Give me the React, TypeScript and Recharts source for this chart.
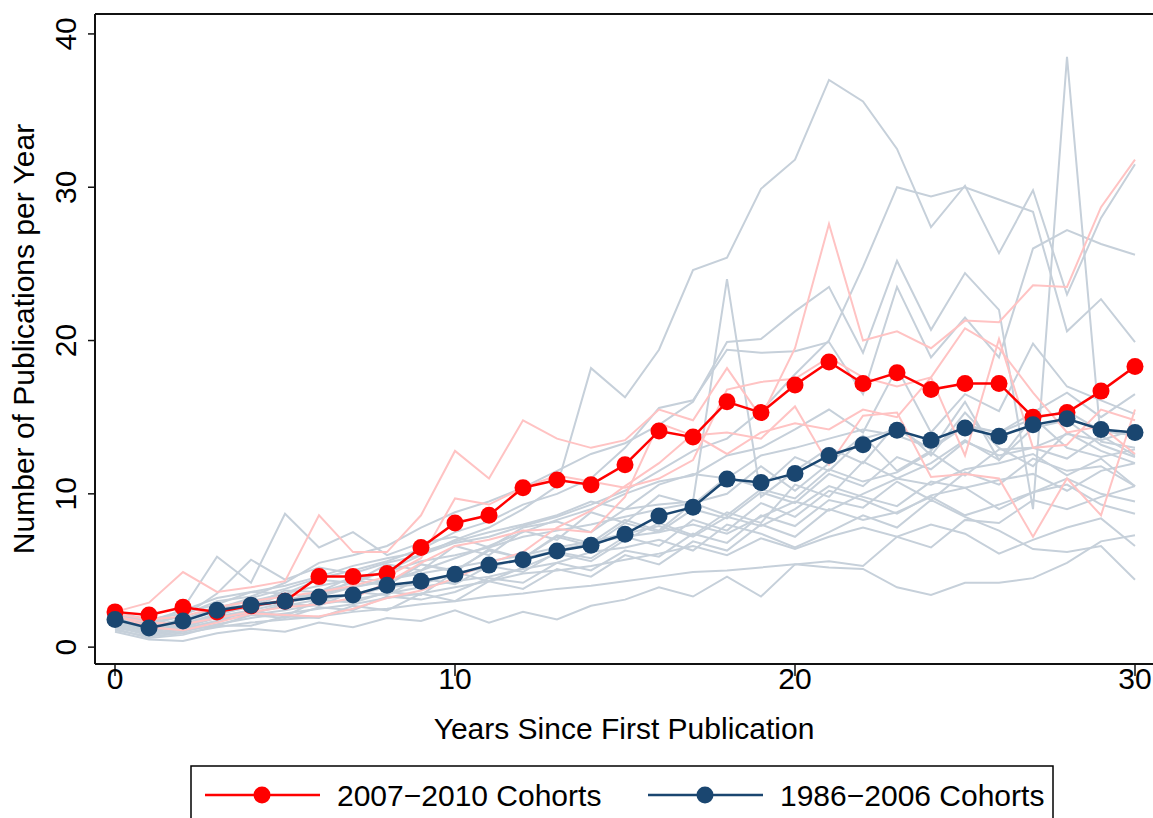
import React from 'react';
import { LineChart, Line, XAxis, YAxis, Legend, ReferenceLine } from 'recharts';

const years = [
  0, 1, 2, 3, 4, 5, 6, 7, 8, 9, 10, 11, 12, 13, 14, 15, 16, 17, 18, 19, 20,
  21, 22, 23, 24, 25, 26, 27, 28, 29, 30,
];

// cohort means
const recentMean = [
  2.3, 2.1, 2.6, 2.3, 2.7, 3.0, 4.6, 4.6, 4.8, 6.5, 8.1, 8.6, 10.4, 10.9, 10.6,
  11.9, 14.1, 13.7, 16.0, 15.3, 17.1, 18.6, 17.2, 17.9, 16.8, 17.2, 17.2, 15.0,
  15.3, 16.7, 18.3,
];
const earlierMean = [
  1.8, 1.25, 1.7, 2.4, 2.74, 3.0, 3.27, 3.4, 4.04, 4.3, 4.75, 5.35, 5.7, 6.27,
  6.65, 7.37, 8.56, 9.13, 10.96, 10.74, 11.33, 12.5, 13.2, 14.15, 13.5, 14.3,
  13.75, 14.5, 14.9, 14.2, 14.0,
];

// individual cohorts 2007-2010 (pink)
const recentCohorts = [
  [2.3, 2.9, 4.9, 3.6, 3.9, 4.3, 8.6, 6.2, 6.2, 8.6, 12.8, 11.0, 14.8, 13.6, 13.0, 13.5, 15.5, 14.8, 18.2, 15.0, 19.5, 27.6, 20.0, 20.6, 19.5, 21.3, 21.2, 23.6, 23.5, 28.7, 31.8],
  [2.2, 1.8, 2.0, 2.6, 3.0, 3.3, 3.6, 4.0, 4.6, 5.8, 9.7, 9.3, 10.4, 11.2, 10.8, 10.4, 11.0, 12.2, 16.8, 17.3, 17.5, 18.9, 17.6, 17.0, 17.6, 12.5, 20.1, 13.0, 13.2, 15.5, 14.8],
  [2.0, 1.6, 1.5, 1.9, 2.3, 2.6, 2.8, 3.2, 4.2, 5.5, 6.6, 7.0, 7.6, 7.7, 7.5, 9.8, 14.6, 13.8, 14.0, 13.6, 15.7, 11.9, 15.1, 15.3, 11.1, 11.3, 11.0, 7.2, 11.0, 8.6, 15.5],
  [2.1, 1.3, 1.1, 1.6, 2.2, 2.1, 2.0, 2.5, 3.2, 3.7, 4.5, 5.5, 6.2, 7.8, 8.9, 10.5, 12.0, 13.9, 12.6, 14.0, 14.6, 14.2, 15.5, 15.0, 17.6, 20.8, 19.5, 16.6, 14.0, 14.4, 12.6],
];

// individual cohorts 1986-2006 (grey)
const earlierCohorts = [
  [1.5, 1.1, 1.5, 2.2, 2.6, 3.0, 3.6, 4.2, 5.0, 6.0, 7.0, 7.8, 9.0, 10.5, 18.2, 16.3, 19.4, 24.6, 25.4, 29.9, 31.8, 37.0, 35.6, 32.5, 27.4, 30.1, 25.7, 29.8, 23.0, 28.0, 31.5],
  [1.9, 1.4, 2.1, 3.0, 3.3, 4.2, 5.5, 6.0, 6.6, 7.8, 8.8, 9.5, 10.4, 11.5, 12.6, 13.3, 14.5, 16.0, 19.9, 20.1, 21.9, 23.5, 19.2, 25.2, 20.7, 24.4, 22.0, 9.0, 38.5, 13.4, 13.0],
  [2.0, 1.5, 2.5, 5.9, 4.2, 8.7, 6.5, 7.5, 6.0, 6.8, 7.2, 6.5, 7.8, 8.2, 7.5, 9.0, 9.3, 9.5, 24.0, 9.8, 11.5, 13.0, 12.0, 14.6, 12.5, 15.3, 13.0, 11.8, 14.0, 12.8, 12.0],
  [1.7, 1.0, 1.8, 2.5, 3.2, 3.8, 4.5, 5.0, 5.6, 6.4, 7.5, 8.2, 9.3, 10.0, 11.0, 13.0, 15.6, 16.1, 19.4, 19.2, 19.3, 19.9, 16.5, 23.5, 18.9, 21.5, 18.9, 26.0, 27.2, 26.3, 25.6],
  [2.2, 1.6, 2.0, 3.5, 5.7, 4.4, 5.2, 4.8, 5.5, 6.0, 6.8, 7.2, 7.9, 8.5, 9.3, 10.2, 11.5, 12.8, 13.6, 15.4, 17.8, 20.0, 24.8, 30.0, 29.4, 30.0, 29.2, 28.4, 20.6, 22.7, 19.9],
  [1.6, 1.2, 1.4, 2.0, 2.4, 2.9, 3.3, 3.9, 4.3, 5.0, 5.8, 6.6, 7.5, 8.3, 9.0, 10.0, 10.8, 11.2, 12.5, 13.0, 14.2, 15.5, 14.0, 18.2, 14.0, 16.5, 15.4, 19.8, 17.0, 16.1, 15.2],
  [1.4, 0.8, 1.2, 1.7, 2.4, 2.0, 3.1, 2.9, 3.6, 3.4, 4.9, 4.3, 5.2, 6.1, 5.6, 7.0, 8.1, 7.3, 8.8, 8.1, 10.6, 9.8, 12.1, 11.0, 12.0, 13.5, 12.2, 14.3, 14.8, 13.2, 12.4],
  [1.8, 1.3, 1.6, 2.6, 3.0, 3.5, 4.0, 4.4, 4.9, 5.6, 6.0, 6.5, 7.2, 7.6, 8.0, 8.5, 9.0, 9.4, 10.0, 11.8, 10.2, 12.0, 13.8, 11.5, 12.8, 16.0, 12.2, 15.0, 13.0, 12.4, 12.9],
  [1.3, 0.9, 1.1, 1.4, 2.1, 1.9, 2.6, 2.4, 3.3, 3.1, 3.6, 4.5, 4.2, 5.5, 5.0, 6.3, 5.9, 7.4, 6.8, 8.6, 7.9, 9.6, 9.1, 10.8, 9.6, 11.4, 10.6, 12.3, 11.5, 11.8, 10.5],
  [2.1, 1.7, 2.4, 3.2, 3.6, 4.0, 4.6, 5.3, 5.8, 6.2, 6.9, 7.5, 8.0, 8.6, 9.5, 9.0, 10.6, 11.3, 11.0, 12.5, 13.0, 13.6, 14.2, 13.8, 13.0, 14.5, 14.0, 14.9, 15.4, 14.1, 13.8],
  [1.5, 1.0, 1.3, 2.0, 2.2, 2.8, 2.7, 3.6, 3.4, 4.5, 4.1, 5.3, 4.9, 6.2, 5.8, 7.2, 6.6, 8.3, 7.6, 9.4, 8.5, 10.2, 9.6, 8.7, 9.9, 10.4, 9.0, 10.1, 11.0, 10.0, 9.5],
  [1.2, 0.6, 0.8, 1.4, 1.4, 2.0, 1.9, 2.7, 2.4, 3.5, 3.0, 4.3, 3.8, 5.1, 4.6, 6.0, 5.4, 6.9, 6.3, 8.0, 7.2, 9.0, 8.3, 8.8, 9.8, 8.6, 9.3, 10.1, 10.6, 9.3, 8.7],
  [1.7, 1.1, 1.5, 2.1, 2.7, 3.1, 3.5, 3.9, 4.4, 4.8, 5.2, 5.6, 6.0, 6.5, 6.9, 7.4, 7.9, 7.2, 8.5, 7.9, 9.0, 10.5, 9.8, 9.2, 10.8, 10.4, 10.9, 11.3, 10.2, 11.5, 12.0],
  [1.0, 0.5, 0.4, 0.9, 1.2, 1.0, 1.6, 1.3, 1.9, 1.7, 2.4, 1.6, 2.3, 1.8, 2.7, 3.1, 3.9, 3.3, 4.6, 3.3, 5.4, 5.6, 5.3, 7.2, 6.5, 8.3, 8.1, 9.6, 9.0, 9.8, 10.5],
  [1.4, 0.9, 1.2, 1.7, 2.1, 2.4, 2.8, 3.1, 3.5, 3.9, 4.3, 4.6, 5.1, 5.5, 6.2, 6.5, 7.0, 6.3, 8.0, 7.4, 6.5, 7.5, 8.6, 7.8, 9.6, 8.5, 7.6, 6.4, 6.2, 6.6, 4.4],
  [1.1, 0.7, 0.9, 1.3, 1.6, 1.8, 2.0, 2.3, 2.5, 2.8, 3.0, 3.3, 3.5, 3.8, 4.0, 4.3, 4.6, 4.9, 5.0, 5.2, 5.4, 5.2, 5.1, 3.9, 3.4, 4.2, 4.2, 4.5, 5.5, 6.9, 7.3],
  [1.9, 1.4, 1.8, 2.6, 2.7, 3.7, 3.6, 4.6, 4.2, 5.4, 5.0, 6.3, 5.8, 7.2, 6.6, 8.1, 7.5, 9.0, 8.4, 10.1, 9.4, 11.3, 10.5, 12.4, 11.6, 13.4, 12.5, 13.0, 13.9, 13.5, 14.2],
  [1.6, 1.1, 1.3, 1.9, 2.2, 2.7, 3.1, 3.4, 3.9, 4.1, 4.8, 5.2, 5.8, 6.3, 6.8, 7.2, 7.5, 8.0, 7.4, 8.5, 9.5, 8.9, 10.0, 11.0, 10.6, 11.6, 12.0, 12.6, 11.2, 12.3, 10.5],
  [1.3, 0.8, 1.0, 1.5, 1.9, 2.2, 2.5, 2.8, 3.2, 3.5, 3.9, 4.3, 4.8, 5.0, 5.3, 5.7, 6.1, 6.6, 6.0, 7.1, 6.4, 7.2, 7.8, 7.2, 8.0, 7.4, 6.1, 7.0, 7.8, 8.4, 6.6],
  [2.3, 1.8, 2.2, 2.8, 3.6, 3.5, 4.4, 4.2, 5.4, 5.0, 6.6, 6.0, 7.6, 7.0, 8.8, 8.1, 9.9, 9.3, 11.1, 10.4, 12.4, 11.5, 13.6, 14.2, 12.9, 14.4, 14.0, 15.3, 16.6, 15.0, 16.5],
  [1.5, 1.2, 1.6, 2.4, 2.6, 3.5, 3.2, 4.4, 4.0, 5.4, 4.9, 6.4, 5.8, 7.3, 6.8, 8.3, 7.6, 9.4, 8.6, 10.3, 9.7, 11.6, 10.8, 11.4, 12.7, 11.2, 12.9, 13.0, 12.3, 13.8, 12.5],
];

const xTicks = [0, 10, 20, 30];
const yTicks = [0, 10, 20, 30, 40];

const FONT = '"Liberation Sans", Arial, sans-serif';
const GREY = '#c6d0da';
const PINK = '#ffc3c3';
const RED = '#ff0000';
const NAVY = '#1a4670';

const data = years.map((yr, i) => {
  const row: Record<string, number> = { year: yr, recent: recentMean[i], earlier: earlierMean[i] };
  earlierCohorts.forEach((s, k) => (row['g' + k] = s[i]));
  recentCohorts.forEach((s, k) => (row['p' + k] = s[i]));
  return row;
});

const XTick = ({ x, y, payload }: any) => (
  <text x={x} y={y + 11} textAnchor="middle" fontSize={30} fontFamily={FONT} fill="#000">
    {payload.value}
  </text>
);

const YTick = ({ x, y, payload }: any) => (
  <text
    x={x}
    y={y}
    transform={`rotate(-90, ${x}, ${y})`}
    textAnchor="middle"
    fontSize={30}
    fontFamily={FONT}
    fill="#000"
  >
    {payload.value}
  </text>
);

const XTitle = ({ viewBox }: any) => (
  <text x={viewBox.x + viewBox.width / 2} y={739} textAnchor="middle" fontSize={30} fontFamily={FONT} fill="#000">
    Years Since First Publication
  </text>
);

const YTitle = ({ viewBox }: any) => {
  const cy = viewBox.y + viewBox.height / 2;
  return (
    <text x={34} y={cy} transform={`rotate(-90, 34, ${cy})`} textAnchor="middle" fontSize={30} fontFamily={FONT} fill="#000">
      Number of Publications per Year
    </text>
  );
};

const LegendBox = ({ payload }: any) => {
  const items = (payload || []).filter((p: any) => p.dataKey === 'recent' || p.dataKey === 'earlier');
  items.sort((a: any) => (a.dataKey === 'recent' ? -1 : 1));
  return (
    <svg width={866} height={62} style={{ display: 'block' }}>
      <rect x={1} y={1} width={862} height={70} fill="#fff" stroke="#000" strokeWidth={1.5} />
      {items.map((it: any, k: number) => {
        const x0 = 15 + k * 443;
        return (
          <g key={it.dataKey}>
            <line x1={x0} y1={30} x2={x0 + 115} y2={30} stroke={it.color} strokeWidth={2.5} />
            <circle cx={x0 + 57} cy={30} r={8.5} fill={it.color} />
            <text x={x0 + 132} y={41} fontSize={30} fontFamily={FONT} fill="#000">
              {it.value}
            </text>
          </g>
        );
      })}
    </svg>
  );
};

export default function App() {
  return (
    <div style={{ position: 'absolute', left: 0, top: 0, width: 1153, height: 818, overflow: 'hidden', background: '#fff' }}>
      <LineChart width={1153} height={818} data={data} margin={{ top: 14, right: 0, bottom: 0, left: 0 }}>
        <XAxis
          dataKey="year"
          type="number"
          domain={[-20 / 34, 30 + 18 / 34]}
          ticks={xTicks}
          tick={<XTick />}
          tickSize={12}
          tickMargin={2}
          height={154}
          axisLine={{ stroke: '#111', strokeWidth: 2 }}
          tickLine={{ stroke: '#111', strokeWidth: 1.5 }}
          allowDataOverflow
          label={<XTitle />}
        />
        <YAxis
          type="number"
          domain={[-1.1, 41.3]}
          ticks={yTicks}
          tick={<YTick />}
          tickSize={7}
          tickMargin={12}
          width={95}
          axisLine={{ stroke: '#111', strokeWidth: 2 }}
          tickLine={{ stroke: '#111', strokeWidth: 1.5 }}
          allowDataOverflow
          label={<YTitle />}
        />
        <ReferenceLine y={41.3} stroke="#111" strokeWidth={2} />
        {earlierCohorts.map((_, k) => (
          <Line
            key={'g' + k}
            dataKey={'g' + k}
            stroke={GREY}
            strokeWidth={2}
            dot={false}
            activeDot={false}
            legendType="none"
            isAnimationActive={false}
          />
        ))}
        {recentCohorts.map((_, k) => (
          <Line
            key={'p' + k}
            dataKey={'p' + k}
            stroke={PINK}
            strokeWidth={2}
            dot={false}
            activeDot={false}
            legendType="none"
            isAnimationActive={false}
          />
        ))}
        <Line
          dataKey="recent"
          name="2007−2010 Cohorts"
          stroke={RED}
          strokeWidth={2.5}
          dot={{ r: 8.5, fill: RED, stroke: RED, strokeWidth: 0 }}
          activeDot={false}
          isAnimationActive={false}
        />
        <Line
          dataKey="earlier"
          name="1986−2006 Cohorts"
          stroke={NAVY}
          strokeWidth={2.5}
          dot={{ r: 8.5, fill: NAVY, stroke: NAVY, strokeWidth: 0 }}
          activeDot={false}
          isAnimationActive={false}
        />
        <Legend
          layout="horizontal"
          verticalAlign="middle"
          align="center"
          content={<LegendBox />}
          wrapperStyle={{ position: 'absolute', left: 190, top: 765, width: 866 }}
        />
      </LineChart>
    </div>
  );
}
